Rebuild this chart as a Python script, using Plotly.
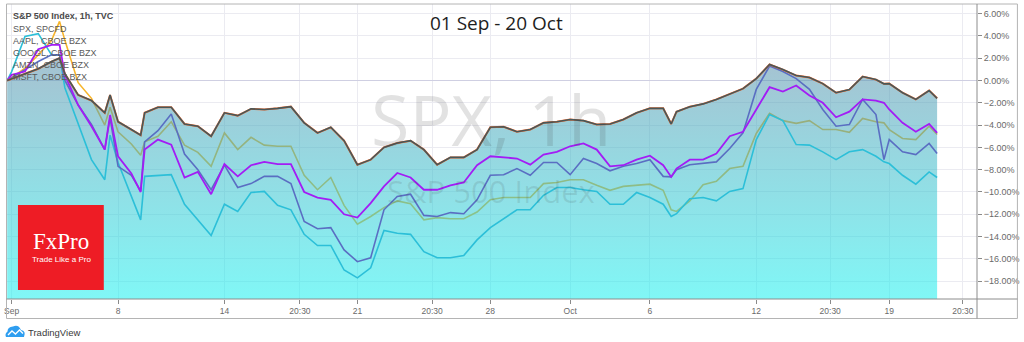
import plotly.graph_objects as go

# ---------------- data (percent change, trading-day index from 1 Sep) ----------------
days = [-0.17, 0, 0.5, 1, 1.5, 1.8, 2, 2.5, 3, 3.5, 3.7, 4, 4.5, 4.85, 5, 5.5, 6, 6.5, 7, 7.5, 8,
        8.5, 9, 9.5, 10, 10.5, 11, 11.5, 12, 12.5, 13, 13.5, 14, 14.5, 15, 15.5, 16, 16.5, 17, 17.5,
        18, 18.5, 19, 19.5, 20, 20.5, 21, 21.5, 22, 22.5, 23, 23.5, 24, 24.5, 24.8, 25, 25.5, 26,
        26.5, 27, 27.5, 28, 28.5, 29, 29.5, 30, 30.5, 31, 31.5, 32, 32.5, 32.8, 33, 33.5, 34, 34.5,
        34.8]

spx = [0.0, 0.15, 0.6, 1.05, 1.7, 2.0, 0.6, -1.3, -1.8, -2.9, -1.3, -3.7, -4.4, -4.9, -2.9, -2.4,
       -2.4, -3.9, -4.1, -5.0, -2.9, -3.15, -2.55, -2.6, -2.5, -2.35, -3.8, -4.7, -4.2, -5.4, -7.55,
       -7.1, -6.0, -5.6, -5.4, -6.2, -7.55, -6.9, -6.9, -6.2, -4.2, -4.15, -4.6, -4.4, -3.8, -3.7,
       -3.5, -3.6, -3.95, -3.9, -3.5, -2.9, -2.5, -2.5, -3.9, -2.8, -2.35, -2.1, -1.7, -1.2, -0.73,
       0.17, 1.43, 0.98, 0.44, 0.26, -0.28, -1.1, -0.82, 0.35, 0.08, -0.3, -0.28, -1.1, -1.7, -0.9,
       -1.6]

spcfd = list(spx)

aapl = [0.0, 0.8, 3.95, 4.2, 2.3, 2.3, -0.65, -3.8, -7.1, -8.9, -4.9, -7.35, -10.4, -12.5, -8.6,
        -8.5, -8.45, -11.1, -12.5, -13.9, -11.1, -11.75, -10.05, -9.95, -11.2, -11.6, -13.8, -14.8,
        -14.8, -17.0, -17.7, -16.8, -13.45, -13.7, -13.8, -15.35, -15.9, -15.9, -15.7, -14.3, -13.2,
        -12.4, -11.6, -11.6, -10.3, -9.6, -9.6, -9.8, -9.95, -11.1, -11.1, -10.05, -10.5, -11.1,
        -12.2, -11.95, -10.6, -10.5, -10.8, -9.95, -9.7, -5.3, -3.05, -3.6, -5.75, -5.8, -6.4, -7.1,
        -6.4, -6.2, -6.8, -7.3, -7.45, -8.5, -9.3, -8.2, -8.7]

googl = [0.0, 0.25, 1.1, 2.3, 3.6, 5.3, 3.6, -0.2, -1.6, -4.0, -2.4, -4.6, -5.7, -6.7, -5.5, -5.0,
         -3.7, -5.8, -6.45, -7.7, -4.7, -6.2, -5.1, -5.8, -5.9, -5.9, -8.5, -9.8, -8.7, -11.2,
         -12.9, -12.2, -11.4, -10.8, -11.05, -12.5, -12.3, -12.4, -12.4, -11.8, -10.7, -10.5, -10.5,
         -10.5, -9.25, -9.15, -8.9, -8.9, -9.4, -9.85, -9.5, -9.4, -9.3, -9.85, -11.6, -11.75,
         -10.8, -9.35, -9.05, -7.9, -7.7, -4.75, -2.95, -3.6, -3.85, -3.6, -4.4, -4.4, -4.65, -3.4,
         -3.7, -3.8, -4.4, -5.2, -5.3, -4.1, -4.85]

amzn = [0.0, 0.25, 1.0, 1.7, 2.3, 2.3, 0.0, -2.2, -3.95, -6.2, -3.35, -7.7, -8.5, -9.9, -5.5, -4.5,
        -3.0, -6.6, -8.0, -9.8, -7.6, -9.6, -9.25, -8.6, -8.6, -9.25, -12.65, -13.3, -13.2, -15.2,
        -16.25, -15.9, -11.6, -10.4, -10.2, -12.1, -12.2, -11.85, -11.95, -10.7, -8.5, -8.45, -7.9,
        -8.5, -7.35, -7.35, -8.45, -7.0, -7.45, -8.1, -7.7, -7.45, -7.1, -8.6, -8.65, -8.0, -7.55,
        -7.45, -7.3, -6.1, -4.7, -0.8, 1.3, 0.8, 0.17, -0.8, -2.6, -4.1, -3.95, -1.7, -3.05, -7.1,
        -5.3, -6.4, -6.65, -5.65, -6.55]

msft = [0.0, 0.5, 0.8, 2.8, 3.2, 3.2, 0.5, -2.2, -4.1, -6.2, -3.1, -6.8, -8.35, -10.0, -6.2, -5.3,
        -5.75, -8.7, -8.2, -10.2, -7.5, -8.6, -7.6, -7.3, -7.5, -7.5, -10.0, -10.5, -10.7, -12.0,
        -12.3, -11.0, -9.5, -8.3, -8.7, -9.8, -9.8, -9.4, -9.15, -7.6, -6.8, -6.9, -7.0, -7.55,
        -6.65, -6.4, -5.9, -5.65, -6.2, -7.7, -7.6, -7.1, -6.75, -7.6, -8.65, -7.9, -7.1, -7.1,
        -6.55, -5.0, -4.6, -2.6, -0.6, -1.0, -0.45, -1.35, -2.0, -3.3, -2.8, -1.7, -1.8, -2.0, -2.6,
        -3.8, -4.6, -3.9, -4.7]

tick_days = [0, 4, 8, 10.84, 13, 15.81, 18, 21, 24, 28, 30.78, 33, 35.77]
tick_text = ["Sep", "8", "14", "20:30", "21", "20:30", "28", "Oct", "6", "12", "20:30", "19", "20:30"]
y_ticks = list(range(-18, 7, 2))
y_text = [(f"{v:.2f}%").replace("-", "\u2212") for v in y_ticks]

legend_lines = ["SPX, SPCFD", "AAPL, CBOE BZX", "GOOGL, CBOE BZX", "AMZN, CBOE BZX", "MSFT, CBOE BZX"]

X_RANGE = [-0.176, 36.3]
Y_RANGE = [-19.6, 6.86]

# ---------------- geometry helpers (pixel -> paper) ----------------
W, H = 1024, 342
ML, MR, MT, MB = 7, 45, 4, 43
PW, PH = W - ML - MR, H - MT - MB


def px(x):
    return (x - ML) / PW


def py(y):
    return (H - MB - y) / PH


FONT = "Liberation Sans"

fig = go.Figure()

# GOOGL line drawn beneath the translucent SPX area (appears olive inside it)
fig.add_trace(go.Scatter(x=days, y=googl, mode="lines",
                         line=dict(color="#f7b52c", width=1.6), hoverinfo="skip"))

# baseline for the area
fig.add_trace(go.Scatter(x=days, y=[Y_RANGE[0]] * len(days), mode="lines",
                         line=dict(width=0, color="rgba(0,0,0,0)"), hoverinfo="skip"))
# SPX area with vertical gradient
fig.add_trace(go.Scatter(
    x=days, y=spx, mode="lines", fill="tonexty",
    line=dict(width=0, color="rgba(0,0,0,0)"),
    fillgradient=dict(type="vertical",
                      colorscale=[[0, "rgba(24,240,239,0.55)"], [1, "rgba(91,146,173,0.55)"]],
                      start=Y_RANGE[0], stop=1.5),
    hoverinfo="skip"))

# other comparison lines on top
fig.add_trace(go.Scatter(x=days, y=aapl, mode="lines",
                         line=dict(color="#2cbfd8", width=1.6), hoverinfo="skip"))
fig.add_trace(go.Scatter(x=days, y=amzn, mode="lines",
                         line=dict(color="#5a6ec2", width=1.6), hoverinfo="skip"))
fig.add_trace(go.Scatter(x=days, y=msft, mode="lines",
                         line=dict(color="#a31cf5", width=1.8), hoverinfo="skip"))
# SPX lines
fig.add_trace(go.Scatter(x=days, y=spcfd, mode="lines",
                         line=dict(color="#ff6a2a", width=2.0), hoverinfo="skip"))
fig.add_trace(go.Scatter(x=days, y=spx, mode="lines",
                         line=dict(color="#47585a", width=1.6), hoverinfo="skip"))

grid = "#ebebf1"
fig.update_layout(
    width=W, height=H, margin=dict(l=ML, r=MR, t=MT, b=MB),
    paper_bgcolor="white", plot_bgcolor="white", showlegend=False,
    xaxis=dict(range=X_RANGE, tickmode="array", tickvals=tick_days, ticktext=tick_text,
               showgrid=True, gridcolor=grid, gridwidth=1, zeroline=False,
               ticks="outside", ticklen=4, tickcolor="#8a8a8a",
               tickfont=dict(family=FONT, size=8.5, color="#6a6a6a"), fixedrange=True),
    yaxis=dict(range=Y_RANGE, side="right", tickmode="array", tickvals=y_ticks, ticktext=y_text,
               showgrid=True, gridcolor=grid, gridwidth=1,
               zeroline=True, zerolinecolor="#cfcfe2", zerolinewidth=1,
               ticks="outside", ticklen=4, tickcolor="#8a8a8a",
               tickfont=dict(family=FONT, size=9, color="#6a6a6a"), fixedrange=True),
)

shapes = []
# outer frame
shapes.append(dict(type="rect", xref="paper", yref="paper", x0=px(6.5), x1=px(1019.5), y0=py(318.5), y1=py(4),
                   line=dict(color="#b4b4b4", width=1), layer="above"))
# price axis separator
shapes.append(dict(type="line", xref="paper", yref="paper", x0=px(979), x1=px(979), y0=py(318.5), y1=py(4),
                   line=dict(color="#8c8c8c", width=1), layer="above"))
# time axis separator
shapes.append(dict(type="line", xref="paper", yref="paper", x0=px(6.5), x1=px(1019.5), y0=py(299), y1=py(299),
                   line=dict(color="#8c8c8c", width=1), layer="above"))
# FxPro box
shapes.append(dict(type="rect", xref="paper", yref="paper", x0=px(18), x1=px(104), y0=py(290), y1=py(205),
                   fillcolor="#ee1c25", line=dict(width=0), layer="above"))


# TradingView cloud icon
def P(x, y):
    return f"{px(x):.5f},{py(y):.5f}"


cloud = (f"M {P(6,337)} L {P(24,337)} Q {P(26.5,331)} {P(21,330)} Q {P(18.5,324)} {P(13,326.5)} "
         f"Q {P(7.5,327)} {P(7.5,331.5)} Q {P(4.5,334)} {P(6,337)} Z")
shapes.append(dict(type="path", xref="paper", yref="paper", path=cloud,
                   fillcolor="#2f9ef0", line=dict(width=0), layer="above"))
wave = f"M {P(8,335)} L {P(12,331)} L {P(15.5,334)} L {P(19.5,330)} L {P(23,333.5)}"
shapes.append(dict(type="path", xref="paper", yref="paper", path=wave,
                   line=dict(color="white", width=1.3), layer="above"))
fig.update_layout(shapes=shapes)

ann = []
# watermark
ann.append(dict(text="SPX, 1h", xref="paper", yref="paper", x=px(491.5), y=py(118.5),
                xanchor="center", yanchor="middle", showarrow=False,
                font=dict(family="Open Sans", size=70, color="rgba(60,60,60,0.15)")))
ann.append(dict(text="S&P 500 Index", xref="paper", yref="paper", x=px(491.5), y=py(191),
                xanchor="center", yanchor="middle", showarrow=False,
                font=dict(family="Open Sans", size=31, color="rgba(60,60,60,0.12)")))
# title
ann.append(dict(text="01 Sep - 20 Oct", xref="paper", yref="paper", x=px(498), y=py(22.5),
                xanchor="center", yanchor="middle", showarrow=False,
                font=dict(family="Open Sans", size=19, color="#1e1e1e")))
# legend block
ann.append(dict(text="<b>S&P 500 Index, 1h, TVC</b>", xref="paper", yref="paper", x=px(11), y=py(16),
                xanchor="left", yanchor="middle", showarrow=False,
                font=dict(family=FONT, size=9, color="#4a4a4a")))
for i, t in enumerate(legend_lines):
    ann.append(dict(text=t, xref="paper", yref="paper", x=px(11), y=py(29.3 + i * 12),
                    xanchor="left", yanchor="middle", showarrow=False,
                    font=dict(family=FONT, size=9, color="#5a5a5a")))
# FxPro logo text
ann.append(dict(text="FxPro", xref="paper", yref="paper", x=px(61.5), y=py(241),
                xanchor="center", yanchor="middle", showarrow=False,
                font=dict(family="Liberation Serif", size=23, color="white")))
ann.append(dict(text="Trade Like a Pro", xref="paper", yref="paper", x=px(61.5), y=py(259.5),
                xanchor="center", yanchor="middle", showarrow=False,
                font=dict(family=FONT, size=8, color="white")))
# TradingView text
ann.append(dict(text="TradingView", xref="paper", yref="paper", x=px(26), y=py(332),
                xanchor="left", yanchor="middle", showarrow=False,
                font=dict(family=FONT, size=9.5, color="#3a3a3a")))
fig.update_layout(annotations=ann)

fig.write_html("out.html", config={"displayModeBar": False})
